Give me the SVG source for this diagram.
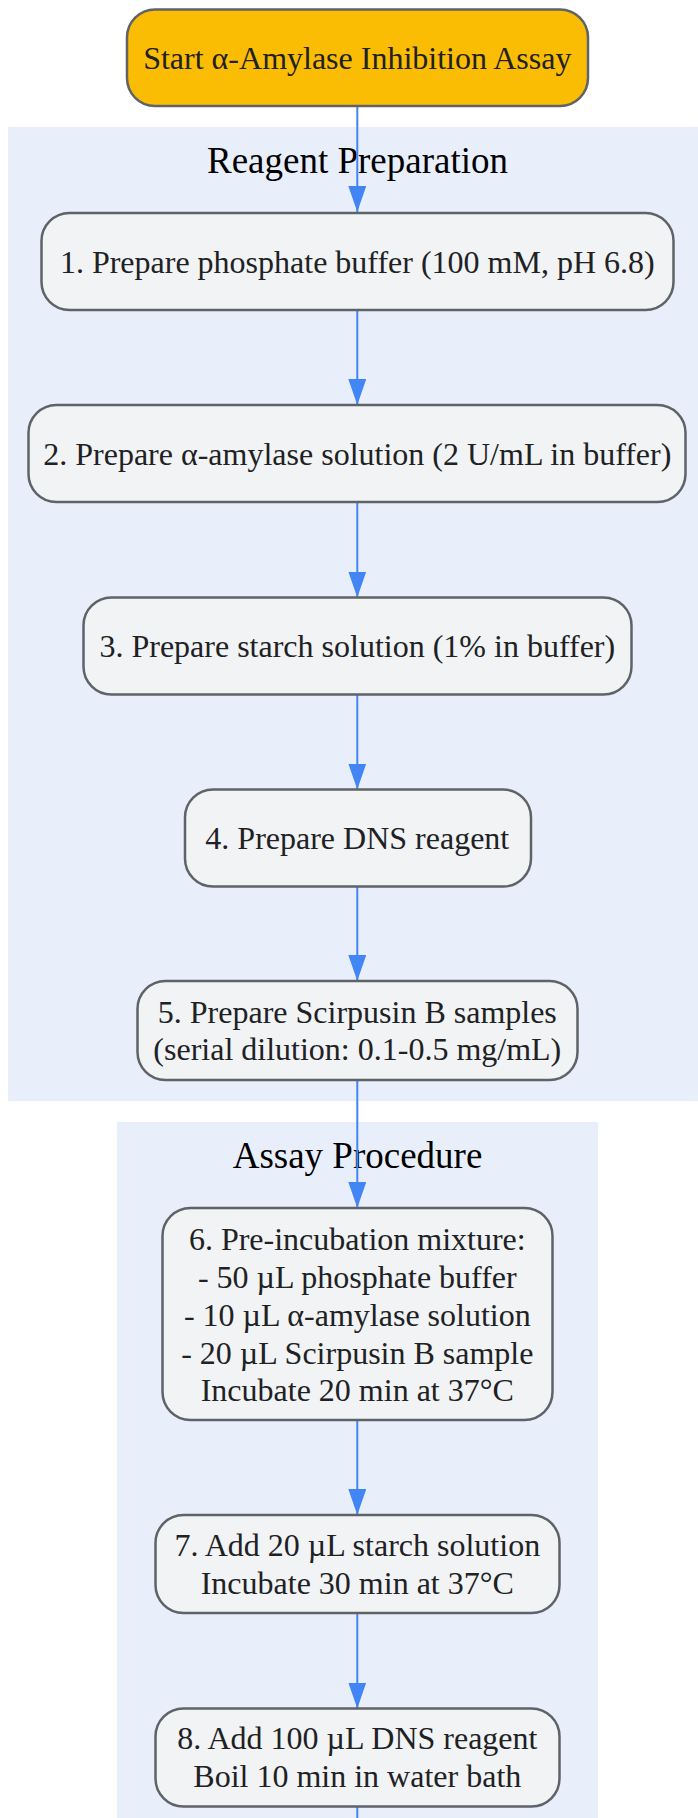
<svg xmlns="http://www.w3.org/2000/svg" width="698" height="1818" viewBox="0 0 698 1818">
<style>
.cluster{fill:#e8effb;stroke:none}
.ctitle{font-family:"Liberation Serif","Times New Roman",serif;font-size:37px;fill:#000;text-anchor:middle}
.node{fill:#f1f3f4;stroke:#5f6368;stroke-width:2.5}
.start{fill:#fbbc04;stroke:#5f6368;stroke-width:2.5}
.label{font-family:"Liberation Serif","Times New Roman",serif;font-size:32px;fill:#202124;text-anchor:middle}
.edge{fill:none;stroke:#4285f4;stroke-width:2}
</style>
<defs>
<marker id="arrow" markerUnits="userSpaceOnUse" markerWidth="26" markerHeight="18" refX="26" refY="9" orient="auto">
<path d="M0,0 L26,9 L0,18 Z" fill="#4285f4"/>
</marker>
</defs>
<rect width="698" height="1818" fill="#ffffff"/>
<g id="cluster-reagent">
<rect class="cluster" x="8" y="127" width="690" height="974"/>
<text class="ctitle" x="357.5" y="173">Reagent Preparation</text>
</g>
<g id="cluster-assay">
<rect class="cluster" x="117" y="1122" width="481" height="700"/>
<text class="ctitle" x="357.5" y="1168">Assay Procedure</text>
</g>
<g id="connectors">
<path class="edge" d="M357.3,106 V212" marker-end="url(#arrow)"/>
<path class="edge" d="M357.3,310 V405" marker-end="url(#arrow)"/>
<path class="edge" d="M357.3,502 V597.5" marker-end="url(#arrow)"/>
<path class="edge" d="M357.3,694.5 V789.5" marker-end="url(#arrow)"/>
<path class="edge" d="M357.3,886.5 V981" marker-end="url(#arrow)"/>
<path class="edge" d="M357.3,1080 V1208" marker-end="url(#arrow)"/>
<path class="edge" d="M357.3,1420 V1515" marker-end="url(#arrow)"/>
<path class="edge" d="M357.3,1613 V1708.5" marker-end="url(#arrow)"/>
<path class="edge" d="M357.3,1806.5 V1820"/>
</g>
<g id="start">
<rect class="start" x="127" y="9.5" width="461" height="96.5" rx="28" ry="28"/>
<text class="label" x="357.3" y="69">Start α-Amylase Inhibition Assay</text>
</g>
<g id="step1">
<rect class="node" x="41.5" y="213" width="632" height="97" rx="28" ry="28"/>
<text class="label" x="357.3" y="273">1. Prepare phosphate buffer (100 mM, pH 6.8)</text>
</g>
<g id="step2">
<rect class="node" x="28.5" y="405" width="657" height="97" rx="28" ry="28"/>
<text class="label" x="357.3" y="465">2. Prepare α-amylase solution (2 U/mL in buffer)</text>
</g>
<g id="step3">
<rect class="node" x="83.5" y="597.5" width="548" height="97" rx="28" ry="28"/>
<text class="label" x="357.3" y="657">3. Prepare starch solution (1% in buffer)</text>
</g>
<g id="step4">
<rect class="node" x="185" y="789.5" width="346" height="97" rx="28" ry="28"/>
<text class="label" x="357.3" y="848.5">4. Prepare DNS reagent</text>
</g>
<g id="step5">
<rect class="node" x="137.5" y="981" width="440" height="99" rx="28" ry="28"/>
<text class="label" x="357.3" y="1022.7">5. Prepare Scirpusin B samples</text>
<text class="label" x="357.3" y="1060">(serial dilution: 0.1-0.5 mg/mL)</text>
</g>
<g id="step6">
<rect class="node" x="162.5" y="1208" width="390" height="212" rx="28" ry="28"/>
<text class="label" x="357.3" y="1250">6. Pre-incubation mixture:</text>
<text class="label" x="357.3" y="1288">- 50 µL phosphate buffer</text>
<text class="label" x="357.3" y="1326">- 10 µL α-amylase solution</text>
<text class="label" x="357.3" y="1363.5">- 20 µL Scirpusin B sample</text>
<text class="label" x="357.3" y="1401">Incubate 20 min at 37°C</text>
</g>
<g id="step7">
<rect class="node" x="155.5" y="1515" width="404" height="98" rx="28" ry="28"/>
<text class="label" x="357.3" y="1556">7. Add 20 µL starch solution</text>
<text class="label" x="357.3" y="1594">Incubate 30 min at 37°C</text>
</g>
<g id="step8">
<rect class="node" x="155.5" y="1708.5" width="404" height="98" rx="28" ry="28"/>
<text class="label" x="357.3" y="1749">8. Add 100 µL DNS reagent</text>
<text class="label" x="357.3" y="1787">Boil 10 min in water bath</text>
</g>
</svg>
